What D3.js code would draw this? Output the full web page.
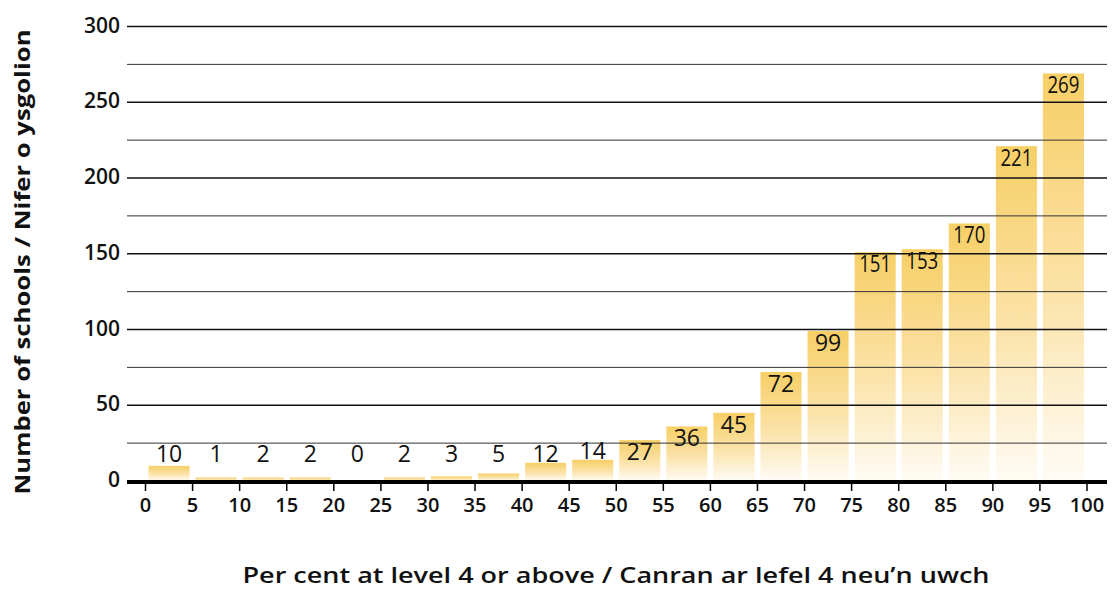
<!DOCTYPE html>
<html>
<head>
<meta charset="utf-8">
<script src="https://cdn.jsdelivr.net/npm/d3@7"></script>
<style>
  html, body { margin: 0; padding: 0; background: #fff; }
  svg { display: block; }
</style>
</head>
<body>
<svg id="chart" width="1112" height="589"></svg>
<script>
// ---- data ----
const binStarts = [0,5,10,15,20,25,30,35,40,45,50,55,60,65,70,75,80,85,90,95];
const counts    = [10,1,2,2,0,2,3,5,12,14,27,36,45,72,99,151,153,170,221,269];
const xTicks    = [0,5,10,15,20,25,30,35,40,45,50,55,60,65,70,75,80,85,90,95,100];
const yTicks    = [0,50,100,150,200,250,300];
const yGrid     = [25,50,75,100,125,150,175,200,225,250,275,300];
const xTitle = "Per cent at level 4 or above / Canran ar lefel 4 neu\u2019n uwch";
const yTitle = "Number of schools / Nifer o ysgolion";
const binWidth = 5;

const svg = d3.select("#chart");
const x = d3.scaleLinear().domain([0, 100]).range([145.5, 1087]);
const y = d3.scaleLinear().domain([0, 300]).range([481, 26.5]);
const plotLeft = 127, plotRight = 1107;

// gradient
const defs = svg.append("defs");
const grad = defs.append("linearGradient").attr("id", "barGrad")
  .attr("x1", 0).attr("y1", 0).attr("x2", 0).attr("y2", 1);
grad.append("stop").attr("offset", "0%").attr("stop-color", "#f7cf66");
grad.append("stop").attr("offset", "55%").attr("stop-color", "#fbe3aa");
grad.append("stop").attr("offset", "100%").attr("stop-color", "#fffcf6");

const data = binStarts.map((s, i) => ({ lo: s, hi: s + binWidth, v: counts[i] }));

// bars (tiny bars keep a minimum visible height above the thick axis)
const barTop = d => Math.min(y(d.v), y(0) - 3.5);
svg.append("g").selectAll("rect").data(data.filter(d => d.v > 0)).join("rect")
  .attr("x", d => x(d.lo) + 3)
  .attr("width", d => x(d.hi) - x(d.lo) - 6)
  .attr("y", d => barTop(d))
  .attr("height", d => y(0) - barTop(d))
  .attr("fill", "url(#barGrad)");

// grid lines (drawn over bars)
svg.append("g").selectAll("line").data(yGrid).join("line")
  .attr("x1", plotLeft).attr("x2", plotRight)
  .attr("y1", d => y(d)).attr("y2", d => y(d))
  .attr("stroke", d => d % 50 === 0 ? "#111" : "#333")
  .attr("stroke-width", d => d % 50 === 0 ? 1.5 : 1);

// y tick labels
svg.append("g").selectAll("text").data(yTicks).join("text")
  .attr("x", 120).attr("y", d => y(d) + 6)
  .attr("text-anchor", "end")
  .attr("font-family", "'Open Sans', sans-serif")
  .attr("font-weight", 600)
  .attr("font-size", 21)
  .attr("fill", "#111")
  .text(d => d);

// x axis baseline and ticks
svg.append("line")
  .attr("x1", plotLeft).attr("x2", plotRight)
  .attr("y1", y(0) + 1).attr("y2", y(0) + 1)
  .attr("stroke", "#000").attr("stroke-width", 4);
svg.append("g").selectAll("line").data(xTicks).join("line")
  .attr("x1", d => x(d)).attr("x2", d => x(d))
  .attr("y1", y(0) + 2).attr("y2", y(0) + 10)
  .attr("stroke", "#000").attr("stroke-width", 1.5);
svg.append("g").selectAll("text").data(xTicks).join("text")
  .attr("x", d => x(d)).attr("y", 512)
  .attr("text-anchor", "middle")
  .attr("font-family", "'Open Sans', sans-serif")
  .attr("font-weight", 600)
  .attr("font-size", 20)
  .attr("fill", "#111")
  .text(d => d);

// value labels
svg.append("g").selectAll("text").data(data).join("text")
  .attr("x", d => (x(d.lo) + x(d.hi)) / 2)
  .attr("y", d => d.v >= 20 ? y(d.v) + 20 : Math.min(y(d.v) - 1, y(0) - 19))
  .attr("text-anchor", "middle")
  .attr("font-family", "'Open Sans', sans-serif")
  .attr("font-weight", 500)
  .attr("font-size", 23)
  .attr("fill", "#111")
  .each(function(d) {
    if (String(d.v).length >= 3) {
      d3.select(this).attr("textLength", 32).attr("lengthAdjust", "spacingAndGlyphs");
    }
  })
  .text(d => d.v);

// axis titles
svg.append("text")
  .attr("transform", "translate(30," + 262 + ") rotate(-90)")
  .attr("text-anchor", "middle")
  .attr("font-family", "'Open Sans', sans-serif")
  .attr("font-weight", 700)
  .attr("font-size", 21)
  .attr("fill", "#111")
  .attr("textLength", 465).attr("lengthAdjust", "spacingAndGlyphs")
  .text(yTitle);

svg.append("text")
  .attr("x", 616).attr("y", 583)
  .attr("text-anchor", "middle")
  .attr("font-family", "'Open Sans', sans-serif")
  .attr("font-weight", 600)
  .attr("font-size", 22)
  .attr("fill", "#111")
  .attr("textLength", 747).attr("lengthAdjust", "spacingAndGlyphs")
  .text(xTitle);
</script>
</body>
</html>
